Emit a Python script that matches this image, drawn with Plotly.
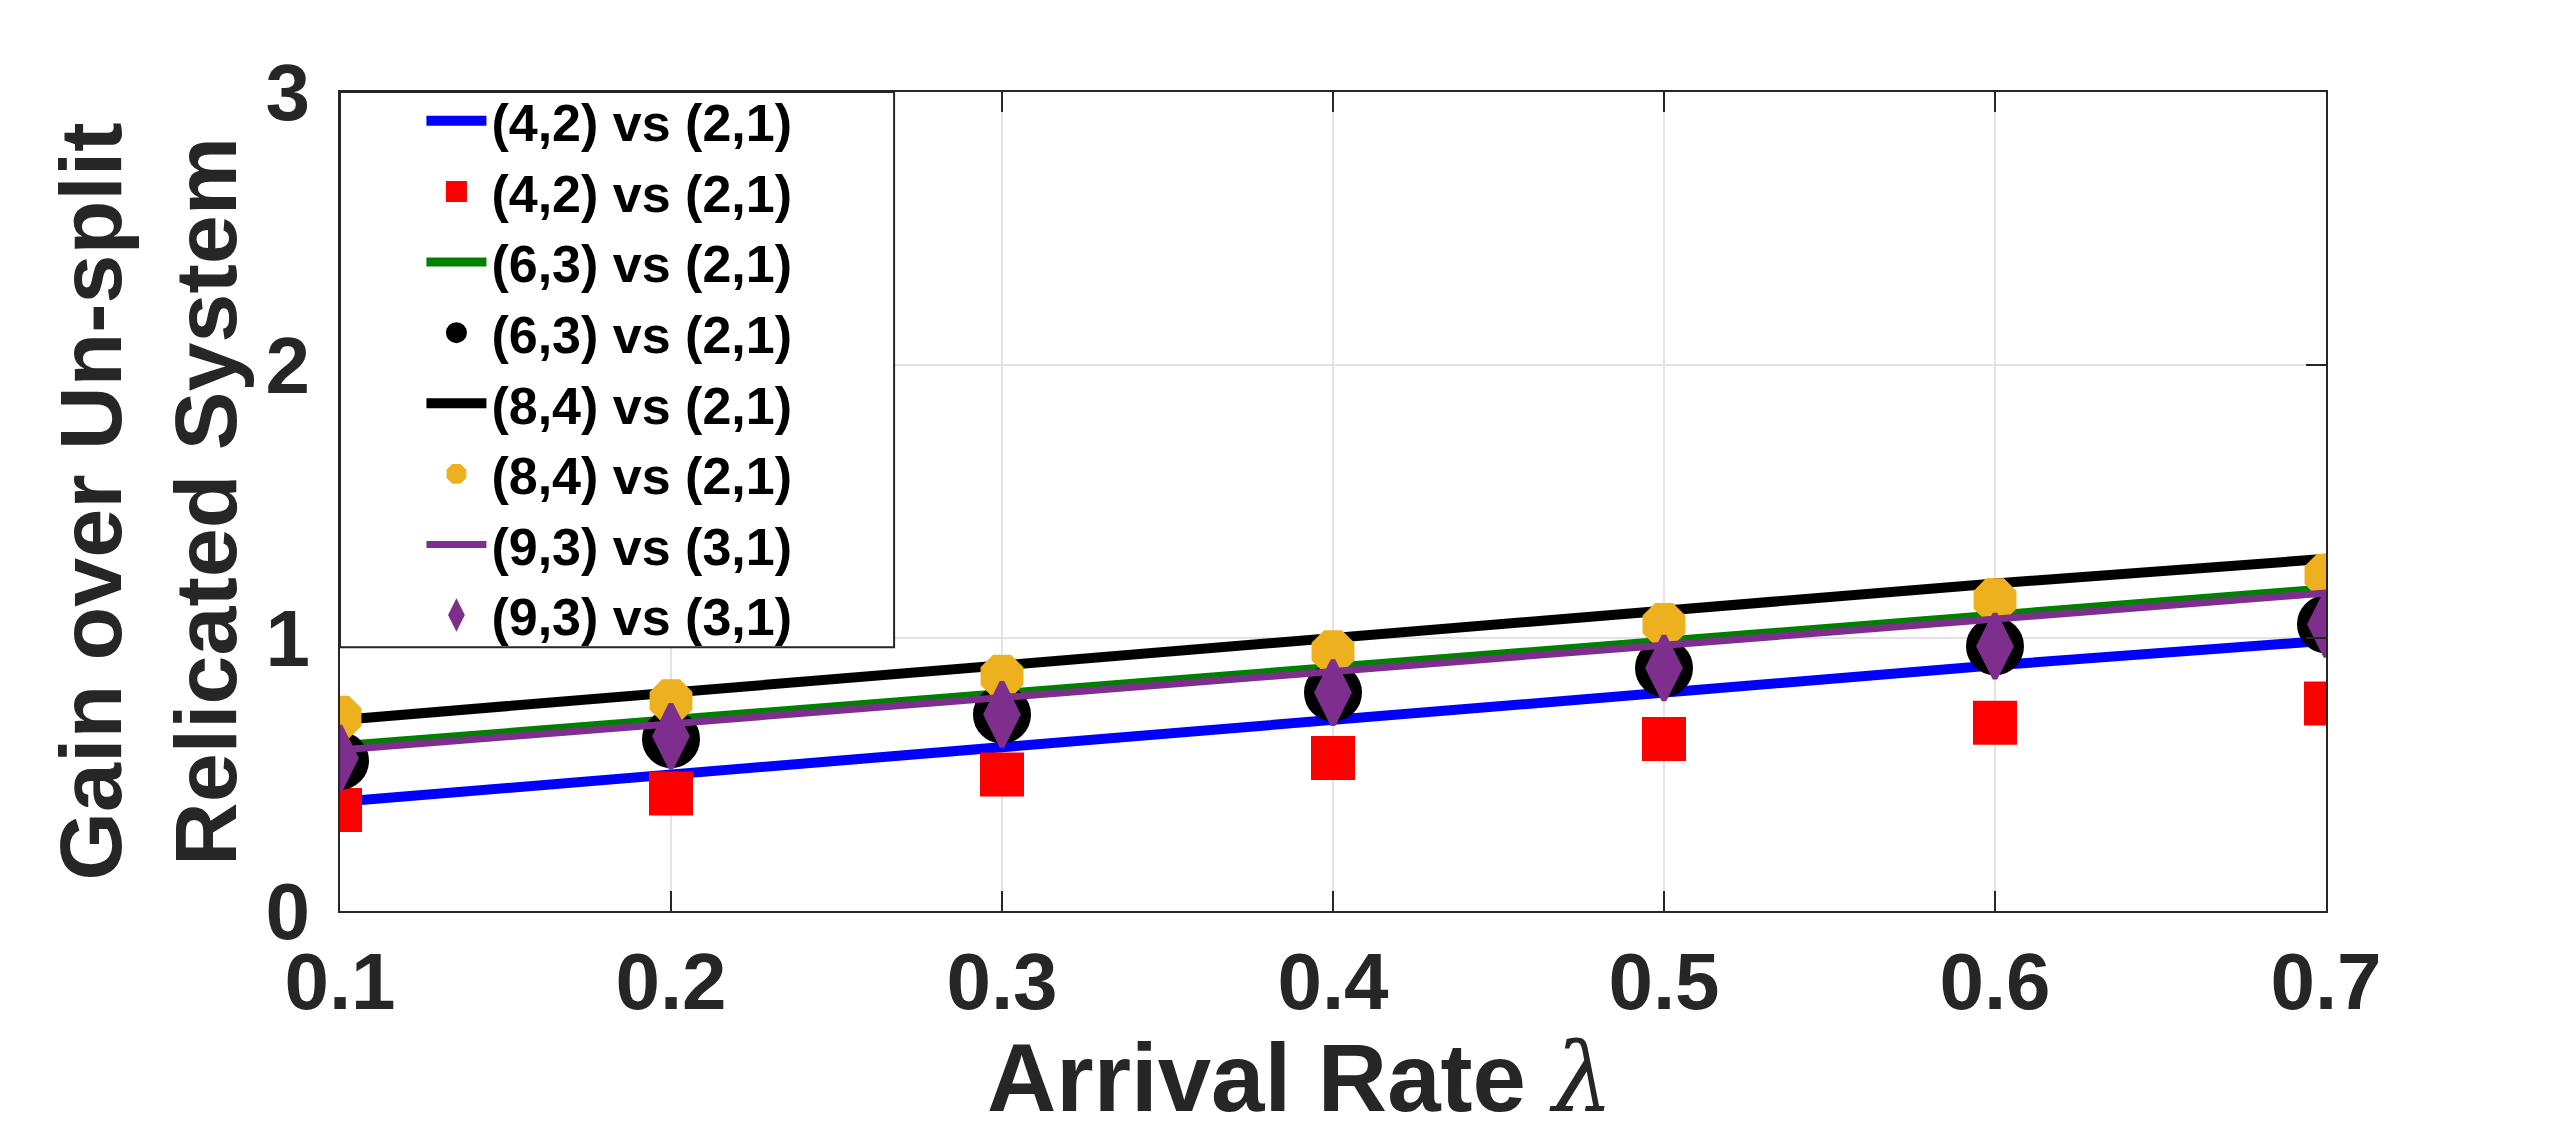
import plotly.graph_objects as go

# arrival rate (x axis)
arrival_rate = [0.1, 0.2, 0.3, 0.4, 0.5, 0.6, 0.7]

# gain curves
gain_42_line = [0.40, 0.50, 0.60, 0.70, 0.80, 0.90, 0.99]
gain_42_pts = [0.37, 0.43, 0.50, 0.56, 0.63, 0.69, 0.76]
gain_63_line = [0.605, 0.70, 0.795, 0.89, 0.985, 1.08, 1.18]
gain_63_pts = [0.55, 0.63, 0.72, 0.80, 0.89, 0.97, 1.05]
gain_84_line = [0.70, 0.80, 0.90, 1.00, 1.10, 1.20, 1.29]
gain_84_pts = [0.71, 0.77, 0.86, 0.95, 1.05, 1.14, 1.23]
gain_93_line = [0.59, 0.685, 0.78, 0.875, 0.97, 1.065, 1.165]
gain_93_pts = [0.56, 0.64, 0.72, 0.80, 0.89, 0.97, 1.05]

names = ["(4,2) vs (2,1)", "(4,2) vs (2,1)", "(6,3) vs (2,1)", "(6,3) vs (2,1)",
         "(8,4) vs (2,1)", "(8,4) vs (2,1)", "(9,3) vs (3,1)", "(9,3) vs (3,1)"]

x_ticks = [0.1, 0.2, 0.3, 0.4, 0.5, 0.6, 0.7]
y_ticks = [0, 1, 2, 3]

BLUE = "#0000ff"
RED = "#ff0000"
GREEN = "#008000"
BLACK = "#000000"
ORANGE = "#EDB120"
PURPLE = "#7E2F8E"
AXC = "#262626"
FONT = "Liberation Sans, Arial, sans-serif"

fig = go.Figure()

def line(y, name, color, width):
    fig.add_trace(go.Scatter(x=arrival_rate, y=y, name=name, mode="lines",
                             line=dict(color=color, width=width)))

def points(y, name, color, symbol, size):
    fig.add_trace(go.Scatter(x=arrival_rate, y=y, name=name, mode="markers",
                             marker=dict(color=color, symbol=symbol, size=size,
                                         line=dict(color=color, width=5))))

line(gain_42_line, names[0], BLUE, 10)
points(gain_42_pts, names[1], RED, "square", 39)
line(gain_63_line, names[2], GREEN, 9)
points(gain_63_pts, names[3], BLACK, "circle", 53)
line(gain_84_line, names[4], BLACK, 10)
points(gain_84_pts, names[5], ORANGE, "octagon", 41)
line(gain_93_line, names[6], PURPLE, 7)
points(gain_93_pts, names[7], PURPLE, "diamond-tall", 46)

axis_common = dict(
    showline=True, linecolor=AXC, linewidth=2, mirror="ticks",
    ticks="inside", ticklen=20, tickwidth=1.5, tickcolor=AXC,
    showgrid=True, gridcolor="#e3e3e3", gridwidth=1.5, zeroline=False,
    tickfont=dict(family=FONT, size=80, color=AXC, weight="bold"),
)

lam = '<span style="font-family:DejaVu Serif;font-weight:normal"><i>λ</i></span>'

fig.update_xaxes(range=[0.1, 0.7], tickvals=x_ticks, tickformat=".1f", **axis_common)
fig.update_yaxes(
    range=[0, 3], tickvals=y_ticks, ticklabelstandoff=12,
    title=dict(text="Gain over Un-split<br>Relicated System", standoff=0,
               font=dict(family=FONT, size=88, color=AXC, weight="bold")),
    **axis_common,
)

# x label as annotation so it can sit a little left of centre like the original
fig.add_annotation(text="Arrival Rate " + lam, xref="paper", yref="paper",
                   x=0.5, y=0, xanchor="center", yanchor="top",
                   xshift=-33, yshift=-109, showarrow=False,
                   font=dict(family=FONT, size=96, color=AXC, weight="bold"))

# legend box (MATLAB style, wider than the entries)
fig.add_shape(type="rect", xref="paper", yref="paper",
              x0=0, x1=0.279, y0=0.322, y1=1,
              fillcolor="white", line=dict(color=AXC, width=2), layer="above")

fig.update_layout(
    width=2560, height=1135,
    margin=dict(l=332, r=242, t=84, b=232),
    paper_bgcolor="white", plot_bgcolor="white",
    showlegend=True,
    legend=dict(
        x=0.041, y=1.014, xanchor="left", yanchor="top",
        bgcolor="rgba(0,0,0,0)", borderwidth=0, maxheight=1000,
        font=dict(family=FONT, size=52, color=BLACK, weight="bold"),
        itemwidth=60, tracegroupgap=0,
    ),
)

fig.write_html("out.html")
